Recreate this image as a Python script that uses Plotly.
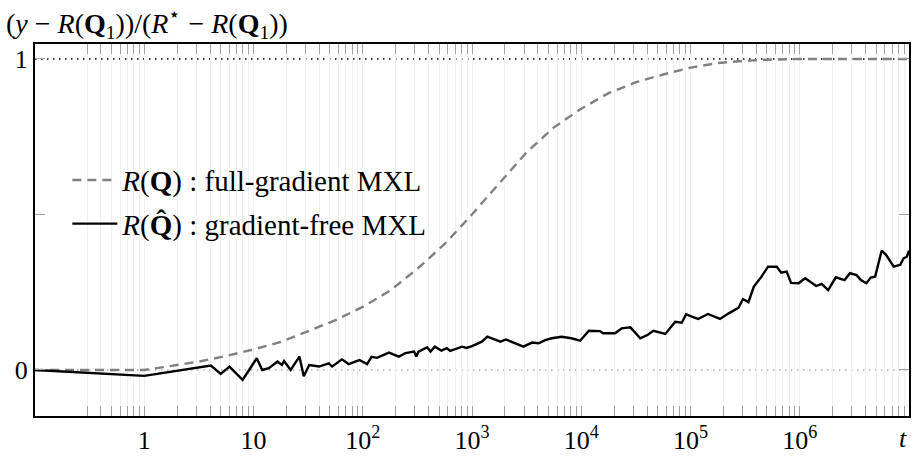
import numpy as np
import plotly.graph_objects as go

# ---- data (x given as log10(t)) ----
log_t_full = [-1.0, 0.0, 0.25, 0.5, 0.75, 1.0, 1.25, 1.5, 1.75, 2.0, 2.25, 2.5, 2.75,
              3.0, 3.25, 3.5, 3.75, 4.0, 4.25, 4.5, 4.75, 5.0, 5.25, 5.5, 5.75, 6.0, 7.0]
y_full = [0.0, 0.0, 0.013, 0.027, 0.045, 0.066, 0.09, 0.125, 0.16, 0.203, 0.255, 0.325, 0.405,
          0.50, 0.60, 0.70, 0.78, 0.84, 0.89, 0.925, 0.95, 0.972, 0.987, 0.994, 0.998, 1.0, 1.0]

log_t_free = [-1.0, 0.00, 0.61, 0.70, 0.78, 0.90, 0.96, 1.03, 1.08, 1.14, 1.22, 1.26, 1.28, 1.34,
              1.42, 1.46, 1.51, 1.56, 1.60, 1.69, 1.72, 1.81, 1.87, 1.97, 2.04, 2.08, 2.13,
              2.24, 2.33, 2.39, 2.47, 2.49, 2.51, 2.59, 2.62, 2.66, 2.72, 2.77, 2.80, 2.91,
              2.95, 3.00, 3.09, 3.14, 3.18, 3.26, 3.31, 3.36, 3.47, 3.55, 3.61, 3.67, 3.73,
              3.82, 3.91, 3.99, 4.07, 4.17, 4.20, 4.31, 4.37, 4.45, 4.54, 4.61, 4.66, 4.77,
              4.86, 4.92, 4.96, 5.03, 5.07, 5.16, 5.27, 5.35, 5.44, 5.48, 5.53, 5.58, 5.65,
              5.71, 5.79, 5.83, 5.88, 5.92, 5.99, 6.05, 6.09, 6.15, 6.20, 6.26, 6.33, 6.41,
              6.46, 6.52, 6.56, 6.61, 6.65, 6.69, 6.75, 6.79, 6.86, 6.92, 6.95, 6.98, 7.0]
y_free = [0.0, -0.019, 0.014, -0.013, 0.011, -0.032, 0.0, 0.038, 0.0, 0.006, 0.027, 0.016, 0.029, 0.0,
          0.043, -0.020, 0.016, 0.013, 0.011, 0.021, 0.011, 0.034, 0.019, 0.032, 0.019, 0.042, 0.039,
          0.056, 0.043, 0.054, 0.059, 0.043, 0.059, 0.073, 0.059, 0.075, 0.062, 0.070, 0.061, 0.075,
          0.071, 0.077, 0.091, 0.107, 0.102, 0.091, 0.098, 0.091, 0.075, 0.088, 0.086, 0.096, 0.102,
          0.107, 0.102, 0.094, 0.126, 0.125, 0.118, 0.118, 0.134, 0.137, 0.102, 0.113, 0.126, 0.116,
          0.155, 0.152, 0.179, 0.169, 0.164, 0.180, 0.164, 0.182, 0.200, 0.228, 0.218, 0.268, 0.300,
          0.332, 0.332, 0.313, 0.316, 0.280, 0.279, 0.295, 0.284, 0.270, 0.277, 0.257, 0.298, 0.289,
          0.311, 0.305, 0.289, 0.279, 0.297, 0.300, 0.384, 0.370, 0.332, 0.338, 0.359, 0.364, 0.384]

x_major = [1, 10, 100, 1e3, 1e4, 1e5, 1e6]
x_major_text = ["1", "10", "10<sup>2</sup>", "10<sup>3</sup>", "10<sup>4</sup>",
                "10<sup>5</sup>", "10<sup>6</sup>"]
x_end_label = "<i>t</i>"
x_minor = [m * 10.0 ** k for k in range(-1, 7) for m in range(2, 10) if not (k == -1 and m < 3)]

title_text = ("(<i>y</i> − <i>R</i>(<b>Q</b><sub>1</sub>))/(<i>R</i><sup>⋆</sup> − "
              "<i>R</i>(<b>Q</b><sub>1</sub>))")
name_full = "<i>R</i>(<b>Q</b>) : full-gradient MXL"
name_free = "<i>R</i>(<b>Q̂</b>) : gradient-free MXL"

FONT = "Liberation Serif"
TICK_GREY = "#a0a0a0"
GRID = "#f0f0f0"

fig = go.Figure()
fig.add_trace(go.Scatter(x=np.power(10.0, log_t_full), y=y_full, mode="lines", name=name_full,
                         legendgroup="a",
                         line=dict(color="#808080", width=2.4, dash="9px,6px")))
fig.add_trace(go.Scatter(x=np.power(10.0, log_t_free), y=y_free, mode="lines", name=name_free,
                         legendgroup="b",
                         line=dict(color="black", width=2.4)))

# reference lines
fig.add_shape(type="line", xref="paper", x0=0, x1=1, yref="y", y0=1, y1=1,
              line=dict(color="black", width=1.5, dash="1.5px,4.5px"), layer="below")
fig.add_shape(type="line", xref="paper", x0=0, x1=1, yref="y", y0=0, y1=0,
              line=dict(color="#b0b0b0", width=1.5, dash="1.5px,4.5px"), layer="below")

fig.add_annotation(text=title_text, xref="paper", yref="paper", x=-0.036, y=1.054,
                   xanchor="left", yanchor="middle", showarrow=False,
                   font=dict(family=FONT, size=28, color="black"))
fig.add_annotation(text=x_end_label, xref="x", yref="paper", x=7, y=0,
                   xanchor="center", yanchor="top", xshift=-6, yshift=-6, showarrow=False,
                   font=dict(family=FONT, size=26, color="black"))

fig.update_layout(
    width=913, height=459,
    margin=dict(l=35, r=2, t=44, b=43),
    paper_bgcolor="white", plot_bgcolor="white",
    font=dict(family=FONT, size=26, color="black"),
    showlegend=True,
    legend=dict(x=0.037, y=0.575, xanchor="left", yanchor="middle",
                bgcolor="rgba(0,0,0,0)", borderwidth=0, itemwidth=45,
                tracegroupgap=3, font=dict(family=FONT, size=29)),
    xaxis=dict(type="log", range=[-1, 7], tickmode="array", tickvals=x_major,
               ticktext=x_major_text, ticks="inside", ticklen=10, tickcolor=TICK_GREY,
               tickwidth=1, showline=True, linecolor="black", linewidth=2,
               mirror="allticks", showgrid=True, gridcolor=GRID, gridwidth=1,
               zeroline=False, tickfont=dict(family=FONT, size=26),
               minor=dict(tickmode="array", tickvals=x_minor, ticks="inside", ticklen=10,
                          tickcolor=TICK_GREY, tickwidth=1, showgrid=True,
                          gridcolor=GRID, gridwidth=1)),
    yaxis=dict(range=[-0.148, 1.048], tickmode="array", tickvals=[0, 1],
               ticktext=["0", "1"], ticks="inside", ticklen=10, tickcolor=TICK_GREY,
               showline=True, linecolor="black", linewidth=2, mirror="allticks",
               showgrid=False, zeroline=False, tickfont=dict(family=FONT, size=26),
               minor=dict(tickmode="array", tickvals=[0.5], ticks="inside", ticklen=10,
                          tickcolor=TICK_GREY, showgrid=False)),
)

fig.write_html("out.html", config={"displayModeBar": False},
               post_script="document.body.style.margin='0';"
                           "document.body.style.overflow='hidden';")
